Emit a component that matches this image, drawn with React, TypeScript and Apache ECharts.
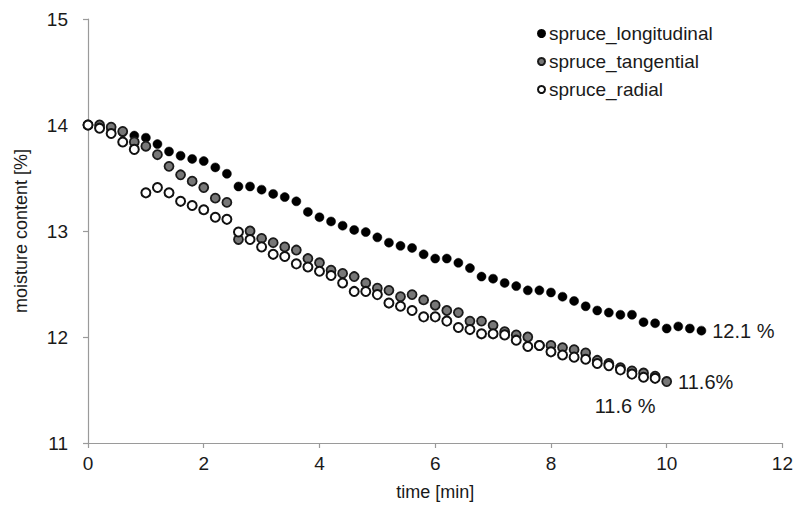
import React, { useEffect, useRef } from "react";
import * as echarts from "echarts";

const seriesNames = ["spruce_longitudinal", "spruce_tangential", "spruce_radial"];
const endLabels = ["12.1 %", "11.6%", "11.6 %"];

const timeLongitudinal = [
  0, 0.2, 0.4, 0.6, 0.8, 1.0, 1.2, 1.4, 1.6, 1.8, 2.0, 2.2, 2.4, 2.6, 2.8, 3.0, 3.2, 3.4,
  3.6, 3.8, 4.0, 4.2, 4.4, 4.6, 4.8, 5.0, 5.2, 5.4, 5.6, 5.8, 6.0, 6.2, 6.4, 6.6, 6.8, 7.0,
  7.2, 7.4, 7.6, 7.8, 8.0, 8.2, 8.4, 8.6, 8.8, 9.0, 9.2, 9.4, 9.6, 9.8, 10.0, 10.2, 10.4, 10.6,
];
const longitudinal = [
  14.0, 13.98, 13.96, 13.93, 13.9, 13.88, 13.82, 13.75, 13.71, 13.68, 13.66, 13.6, 13.54, 13.42,
  13.42, 13.39, 13.35, 13.32, 13.28, 13.18, 13.13, 13.09, 13.05, 13.01, 12.99, 12.94, 12.89,
  12.86, 12.84, 12.78, 12.74, 12.74, 12.7, 12.65, 12.57, 12.55, 12.51, 12.48, 12.44, 12.44,
  12.42, 12.38, 12.34, 12.29, 12.25, 12.23, 12.21, 12.21, 12.14, 12.13, 12.08, 12.1, 12.08, 12.06,
];

const timeTangential = [
  0, 0.2, 0.4, 0.6, 0.8, 1.0, 1.2, 1.4, 1.6, 1.8, 2.0, 2.2, 2.4, 2.6, 2.8, 3.0, 3.2, 3.4,
  3.6, 3.8, 4.0, 4.2, 4.4, 4.6, 4.8, 5.0, 5.2, 5.4, 5.6, 5.8, 6.0, 6.2, 6.4, 6.6, 6.8, 7.0,
  7.2, 7.4, 7.6, 7.8, 8.0, 8.2, 8.4, 8.6, 8.8, 9.0, 9.2, 9.4, 9.6, 9.8, 10.0,
];
const tangential = [
  14.0, 14.0, 13.98, 13.94, 13.84, 13.8, 13.72, 13.61, 13.53, 13.47, 13.41, 13.31, 13.27,
  12.92, 13.0, 12.93, 12.89, 12.85, 12.82, 12.74, 12.7, 12.63, 12.6, 12.57, 12.51, 12.46,
  12.44, 12.38, 12.4, 12.35, 12.3, 12.25, 12.23, 12.15, 12.15, 12.11, 12.05, 12.02, 12.0,
  11.92, 11.92, 11.9, 11.88, 11.85, 11.78, 11.75, 11.71, 11.68, 11.66, 11.63, 11.58,
];

const timeRadial = [
  0, 0.2, 0.4, 0.6, 0.8, 1.0, 1.2, 1.4, 1.6, 1.8, 2.0, 2.2, 2.4, 2.6, 2.8, 3.0, 3.2, 3.4,
  3.6, 3.8, 4.0, 4.2, 4.4, 4.6, 4.8, 5.0, 5.2, 5.4, 5.6, 5.8, 6.0, 6.2, 6.4, 6.6, 6.8, 7.0,
  7.2, 7.4, 7.6, 7.8, 8.0, 8.2, 8.4, 8.6, 8.8, 9.0, 9.2, 9.4, 9.6, 9.8,
];
const radial = [
  14.0, 13.97, 13.92, 13.84, 13.77, 13.36, 13.41, 13.36, 13.28, 13.24, 13.2, 13.13, 13.11,
  12.99, 12.92, 12.85, 12.78, 12.76, 12.69, 12.66, 12.62, 12.58, 12.51, 12.43, 12.43, 12.4,
  12.32, 12.29, 12.25, 12.19, 12.19, 12.15, 12.09, 12.07, 12.03, 12.03, 12.02, 11.97, 11.91,
  11.92, 11.86, 11.83, 11.81, 11.79, 11.75, 11.73, 11.69, 11.65, 11.62, 11.61,
];

const xMin = 0;
const xMax = 12;
const xInterval = 2;
const yMin = 11;
const yMax = 15;
const yInterval = 1;

const FONT = "'Liberation Sans', Arial, sans-serif";
const TEXT = "#1a1a1a";

function buildData(times: number[], values: number[], labelText: string, labelCfg: any) {
  return times.map((t, i) => {
    if (i === times.length - 1) {
      return {
        value: [t, values[i]],
        label: {
          show: true,
          formatter: labelText,
          fontFamily: FONT,
          fontSize: 20,
          color: TEXT,
          ...labelCfg,
        },
      };
    }
    return [t, values[i]];
  });
}

export default function App() {
  const ref = useRef<HTMLDivElement>(null);

  useEffect(() => {
    if (!ref.current) return;
    const chart = echarts.init(ref.current, undefined, { renderer: "svg" });
    const axisColor = "#9a9a9a";
    chart.setOption({
      animation: false,
      backgroundColor: "#ffffff",
      grid: { left: 88, right: 12, top: 19, bottom: 80, containLabel: false },
      legend: {
        data: seriesNames,
        orient: "vertical",
        left: 532,
        top: 19,
        itemWidth: 7,
        itemHeight: 7,
        itemGap: 9,
        icon: "circle",
        textStyle: { fontFamily: FONT, fontSize: 19, color: TEXT, padding: [0, 0, 0, -1] },
      },
      xAxis: {
        type: "value",
        min: xMin,
        max: xMax,
        interval: xInterval,
        name: "time [min]",
        nameLocation: "middle",
        nameGap: 40,
        nameTextStyle: { fontFamily: FONT, fontSize: 18, color: TEXT },
        axisLine: { show: true, lineStyle: { color: axisColor, width: 1.2 } },
        axisTick: { show: true, length: 5, lineStyle: { color: axisColor, width: 1.2 } },
        splitLine: { show: false },
        axisLabel: { fontFamily: FONT, fontSize: 19, color: TEXT, margin: 11 },
      },
      yAxis: {
        type: "value",
        min: yMin,
        max: yMax,
        interval: yInterval,
        name: "moisture content [%]",
        nameLocation: "middle",
        nameGap: 58,
        nameRotate: 90,
        nameTextStyle: { fontFamily: FONT, fontSize: 18, color: TEXT },
        axisLine: { show: true, lineStyle: { color: axisColor, width: 1.2 } },
        axisTick: { show: true, length: 5, lineStyle: { color: axisColor, width: 1.2 } },
        splitLine: { show: false },
        axisLabel: { fontFamily: FONT, fontSize: 19, color: TEXT, margin: 20 },
      },
      series: [
        {
          name: seriesNames[0],
          type: "scatter",
          symbol: "circle",
          symbolSize: 9,
          itemStyle: { color: "#000000", borderColor: "#000000", borderWidth: 0.5, opacity: 1 },
          data: buildData(timeLongitudinal, longitudinal, endLabels[0], {
            position: "right",
            distance: 6,
          }),
        },
        {
          name: seriesNames[1],
          type: "scatter",
          symbol: "circle",
          symbolSize: 9,
          itemStyle: { color: "#777777", borderColor: "#1a1a1a", borderWidth: 1.8, opacity: 1 },
          data: buildData(timeTangential, tangential, endLabels[1], {
            position: "right",
            distance: 6,
          }),
        },
        {
          name: seriesNames[2],
          type: "scatter",
          symbol: "circle",
          symbolSize: 9,
          itemStyle: { color: "#ffffff", borderColor: "#111111", borderWidth: 2, opacity: 1 },
          data: buildData(timeRadial, radial, endLabels[2], {
            position: "bottom",
            distance: 12,
            offset: [-30, 0],
          }),
        },
      ],
    });
    return () => chart.dispose();
  }, []);

  return (
    <div
      ref={ref}
      style={{ position: "absolute", left: 0, top: 0, width: 796, height: 523, background: "#fff" }}
    />
  );
}
